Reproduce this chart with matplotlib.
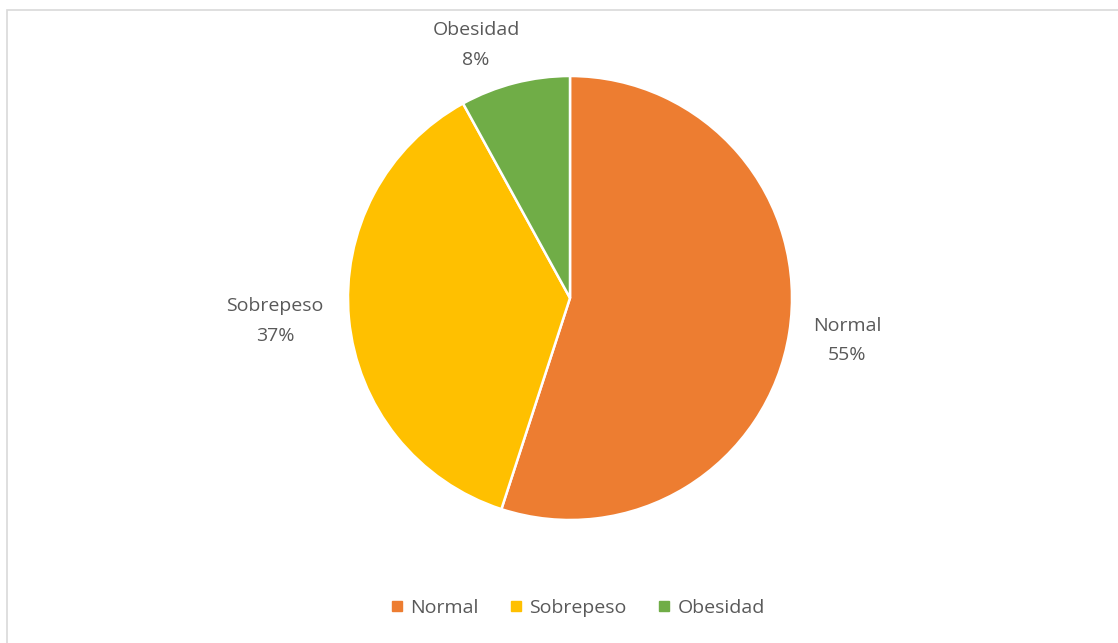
import matplotlib
matplotlib.use("Agg")
import matplotlib.pyplot as plt
from matplotlib.lines import Line2D
from matplotlib.patches import Rectangle

categories = ["Normal", "Sobrepeso", "Obesidad"]
values = [55, 37, 8]
colors = ["#ED7D31", "#FFC000", "#70AD47"]

plt.rcParams["font.family"] = ["Open Sans", "DejaVu Sans"]
text_color = "#595959"

W, H = 1118, 643
fig = plt.figure(figsize=(W / 100, H / 100), dpi=100)
fig.patch.set_facecolor("white")

# light chart-area frame
fig.patches.append(Rectangle((7 / W, -0.05), 1.2, 1 - 10 / H + 0.05,
                             transform=fig.transFigure, fill=False,
                             edgecolor="#D9D9D9", linewidth=1.2))

cx, cy, r = 570, 298, 222
ax = fig.add_axes([(cx - r) / W, (H - cy - r) / H, 2 * r / W, 2 * r / H])
wedges, _ = ax.pie(values, colors=colors, startangle=90, counterclock=False,
                   radius=1.0,
                   wedgeprops=dict(edgecolor="white", linewidth=1.8))
ax.set_xlim(-1, 1)
ax.set_ylim(-1, 1)
ax.set_aspect("equal")
ax.axis("off")

label_pos = [(1.248, -0.19), (-1.329, -0.104), (-0.423, 1.14)]
for name, val, (lx, ly) in zip(categories, values, label_pos):
    ax.text(lx, ly, f"{name}\n{val}%", ha="center", va="center",
            fontsize=14, color=text_color, linespacing=1.8,
            clip_on=False)

handles = [Line2D([], [], marker="s", linestyle="none", markersize=6.5,
                  markerfacecolor=c, markeredgecolor=c) for c in colors]
fig.legend(handles, categories, loc="center", ncol=3,
           bbox_to_anchor=(576 / W, 1 - 608 / H), frameon=False,
           fontsize=14, labelcolor=text_color, handletextpad=0.2,
           columnspacing=1.4, handlelength=1.0)

fig.savefig("out.png", dpi=100, facecolor="white")
